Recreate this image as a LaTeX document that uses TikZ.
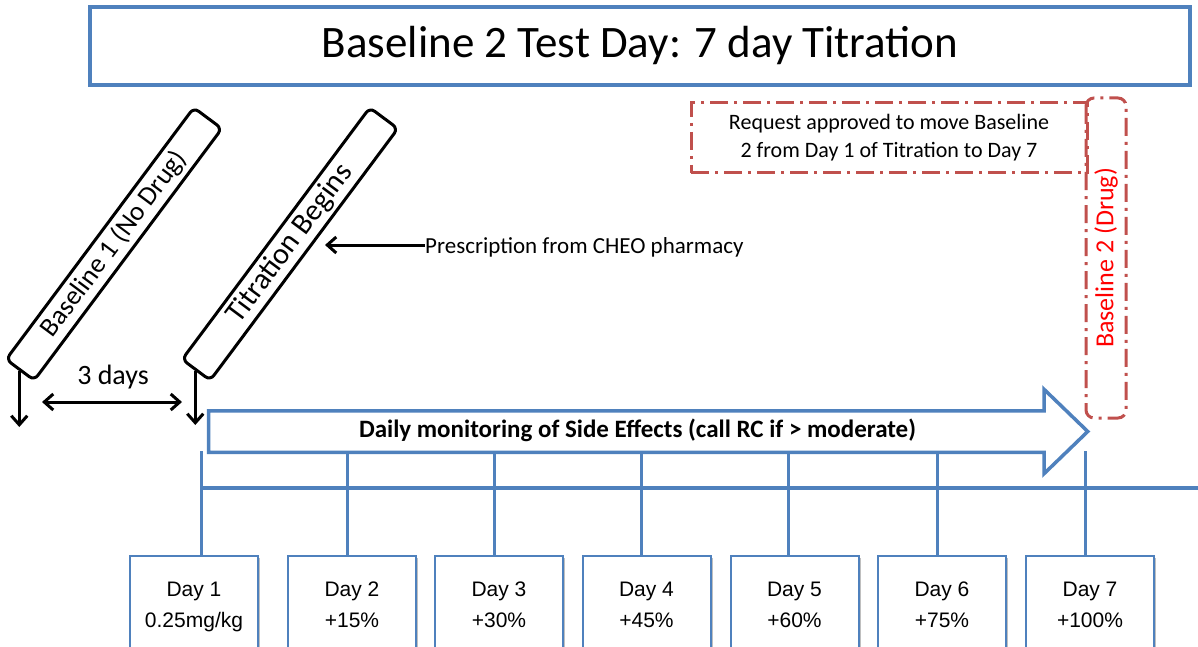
\documentclass[tikz,border=0pt]{standalone}
\usepackage{fontspec}
\setmainfont{Carlito}
\newfontfamily\arialfont{Liberation Sans}
\usetikzlibrary{arrows.meta, shapes.arrows, shadows}
\definecolor{boxblue}{RGB}{79,129,189}
\definecolor{dashred}{RGB}{192,80,77}
\tikzset{
  dashdot/.style={draw=dashred, line width=3pt, dash pattern=on 18pt off 6pt on 3pt off 6pt},
  slantbox/.style={draw, line width=3pt, rounded corners=6pt, rotate=53.3, minimum width=314pt, minimum height=35pt, inner sep=0pt},
  daybox/.style={draw=boxblue, line width=2pt, fill=white, minimum width=128pt, minimum height=92pt, align=center, font=\arialfont\fontsize{21}{31}\selectfont, text height=54pt, text depth=4pt, drop shadow={shadow xshift=2pt, shadow yshift=-2pt, opacity=0.25, fill=black}},
  dayline/.style={draw=boxblue, line width=3pt},
  barb/.tip={Straight Barb[length=9pt,width=16pt]},
  blk/.style={-barb, line width=3pt}
}
\begin{document}
\begin{tikzpicture}[x=1pt, y=-1pt]
\useasboundingbox (0,0) rectangle (1198,647);
\node (title) at (640,46) [draw=boxblue, line width=3.5pt, minimum width=1100pt, minimum height=78pt, font=\fontsize{45}{54}\selectfont] {Baseline 2 Test Day: 7 day Titration};
\node (req) at (889,138) [dashdot, minimum width=396pt, minimum height=70pt, align=center, font=\fontsize{22}{28}\selectfont] {Request approved to move Baseline\\2 from Day 1 of Titration to Day 7};
\node (base2) at (1106,258) [dashdot, rounded corners=8pt, rotate=90, minimum width=320pt, minimum height=40pt, text=red, font=\fontsize{26}{30}\selectfont] {Baseline 2 (Drug)};

\node (base1) at (114,244) [slantbox, font=\fontsize{27}{30}\selectfont] {Baseline 1 (No Drug)};
\node (titr) at (290,244) [slantbox, font=\fontsize{30}{34}\selectfont] {Titration Begins};
\coordinate (base1tip) at (20,427);
\coordinate (titrtip) at (193,425);
\draw [blk] (base1.west) -- (base1.west |- base1tip);
\draw [blk] (titr.west) -- (titr.west |- titrtip);

\coordinate (gapL) at (42,402);
\coordinate (gapR) at (182,402);
\draw [blk, barb-barb] (gapL) -- (gapR);
\node (gap) at (113,377) [font=\fontsize{28}{30}\selectfont] {3 days};

\node (presc) at (425,247) [anchor=west, inner sep=0pt, font=\fontsize{23}{27}\selectfont] {Prescription from CHEO pharmacy};
\coordinate (presctip) at (325,245);
\draw [blk] (presc.west |- presctip) -- (presctip);

\node (mon) at (637.5,431.5) [single arrow, draw=boxblue, line width=3.5pt, fill=white, minimum height=879pt, minimum width=80pt, single arrow head extend=21.5pt, single arrow tip angle=88, inner ysep=8pt, text height=17pt, text depth=5pt, font=\bfseries\fontsize{25}{29}\selectfont] {Daily monitoring of Side Effects (call RC if > moderate)};

\coordinate (lineL) at (200,488);
\coordinate (lineR) at (1198,488);
\draw [dayline, line width=3.5pt] (lineL) -- (lineR);

\node (d1) at (194,602) [daybox] {Day 1\\0.25mg/kg};
\node (d2) at (352,602) [daybox] {Day 2\\+15\%};
\node (d3) at (499,602) [daybox] {Day 3\\+30\%};
\node (d4) at (646.5,602) [daybox] {Day 4\\+45\%};
\node (d5) at (794.5,602) [daybox] {Day 5\\+60\%};
\node (d6) at (942,602) [daybox] {Day 6\\+75\%};
\node (d7) at (1090,602) [daybox] {Day 7\\+100\%};

\coordinate (t1) at (201,451);
\coordinate (t2) at (347,451);
\coordinate (t3) at (494,451);
\coordinate (t4) at (641,451);
\coordinate (t5) at (788,451);
\coordinate (t6) at (937,451);
\coordinate (t7) at (1085,451);
\draw [dayline] (t1) -- (t1 |- d1.north);
\draw [dayline] (t2) -- (t2 |- d2.north);
\draw [dayline] (t3) -- (t3 |- d3.north);
\draw [dayline] (t4) -- (t4 |- d4.north);
\draw [dayline] (t5) -- (t5 |- d5.north);
\draw [dayline] (t6) -- (t6 |- d6.north);
\draw [dayline] (t7) -- (t7 |- d7.north);
\end{tikzpicture}
\end{document}
